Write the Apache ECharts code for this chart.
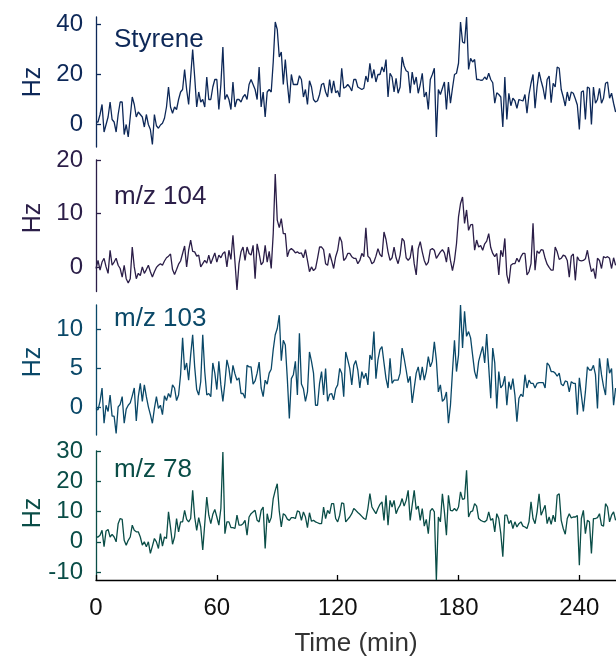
<!DOCTYPE html>
<html>
<head>
<meta charset="utf-8">
<script src="https://cdn.jsdelivr.net/npm/echarts@6/dist/echarts.min.js"></script>
<style>
html,body{margin:0;padding:0;background:#fff;}
#chart{width:616px;height:662px;}
</style>
</head>
<body>
<div id="chart"></div>
<script>
// Time axis ticks (min)
const xTicks = [0, 60, 120, 180, 240];
// Panel names
const panelNames = ['Styrene', 'm/z 104', 'm/z 103', 'm/z 78'];
// y tick labels per panel
const yTicks1 = [0, 20, 40];
const yTicks2 = [0, 10, 20];
const yTicks3 = [0, 5, 10];
const yTicks4 = [-10, 0, 10, 20, 30];

// Hz values, one per minute from 0 to 258 min
const styrene = [
 1, 1, 4, 8, -3, 0, 3, 9, 2, 1,
 -3, 4, 9, 9, -4, 0, -5, 3, 11, 8,
 3, 5, 4, 3, -1, 4, 0, -2, -8, 4,
 -0.5, -1.5, -0.2, 0.5, 2.5, 7, 15, 7, 4.5, 7,
 6, 10, 13, 14, 22, 14, 8, 19, 30, 19,
 7, 13, 9, 10, 7, 19, 10, 10, 15, 18,
 18, 6, 16, 31, 10, 12, 10, 6, 17, 7,
 10, 10, 9, 11, 12, 10, 16, 18, 16, 14,
 10, 23, 7, 13, 3, 13, 14, 13, 25, 41,
 38, 27, 29, 16, 26, 16.5, 8.5, 20, 16, 16,
 16, 19.5, 18, 11, 14, 8, 17.5, 15, 10, 9,
 9.5, 12, 16, 16.5, 13, 11, 18, 12.5, 17.5, 12.7,
 13.5, 11, 22.5, 14.5, 15, 16, 15, 13.4, 18, 18,
 15, 14.5, 14, 14.5, 19.4, 17, 24.5, 18.5, 22, 17,
 20, 20, 23, 21, 26, 11, 20.5, 19, 13, 18.5,
 12.5, 15, 27, 23.4, 21.5, 21, 12.5, 21, 16, 19,
 12.5, 16, 20.5, 11, 13, 6, 18, 20, 22.5, -5,
 14, 12, 14.5, 17, 6, 17, 8.5, 14.5, 20, 20.5,
 24.5, 41, 33, 32.5, 43, 22, 26.5, 25, 26, 18,
 18, 17.7, 17.8, 19, 18, 20.5, 18, 16.7, 8.5, 12.7,
 12, 11, -1, 19, 2, 12.5, 7.5, 10.5, 9.5, 6.5,
 10, 9.7, 9.4, 12, 4.5, 12, 16.5, 20, 6.5, 15,
 21, 17.5, 14.5, 10, 18, 19.4, 8.7, 16.5, 15, 23,
 22.5, 14, 11, 7.4, 13, 9.5, 13, 12.5, 10.3, 7.8,
 -2, 13, 13.5, 2, 15, 14.5, 0, 15, 8.5, 10,
 14.5, 8.5, 10.5, 16.5, 17, 10.5, 12.5, 8.5, 5
];
const mz104 = [
 -0.2, 1.3, -0.5, 1.0, 1.7, 0.1, -1.1, 3.2, 0.4, 1.0,
 1.7, 0.4, -0.2, -1.8, 0.4, -2.1, -2.9, -2.1, 3.8, 0.1,
 -2.1, -1.1, -1.5, 0.1, -1.1, -0.4, 0.4, -0.8, -1.8, -0.8,
 0, 0.4, 0.7, 0.4, 1.2, 1.8, 2.1, 2.5, -0.4, -1.3,
 -0.4, 0.6, 1.2, 2.6, 4.0, 0.1, 3.2, 5.1, 3.0, 2.9,
 2.1, 2.3, 0.1, 0.7, 1.3, 0.8, 2.3, 0.7, 1.7, 2.7,
 1.0, 2.3, 1.8, 2.6, 2.9, 0.1, 3.2, 1.5, 6.0, 1.0,
 -4.2, 0.7, 2.9, 3.8, 1.3, 3.8, 2.6, 2.3, 4.1, -2.1,
 4.4, 2.6, 0.5, 1.0, 4.1, 1.0, 3.0, -0.2, 6.3, 17.4,
 8.8, 7.4, 9.1, 6.3, 6.3, 2.0, 3.2, 3.5, 3.2, 2.7,
 2.9, 2.6, 2.7, 1.8, 3.3, 1.3, -0.8, 0.1, -0.6, -0.2,
 1.7, 3.8, 3.8, 3.3, 0.7, 0.4, 2.6, 1.3, -0.2, 2.0,
 3.2, 5.7, 4.8, 1.3, 1.7, 2.6, 2.6, 2.0, 1.7, 1.7,
 0.7, 1.3, 2.6, 2.0, 7.4, 2.1, 1.7, 0.7, 1.0, 2.1,
 3.5, 2.4, 2.0, 6.6, 5.2, 2.9, 1.3, 1.8, 3.8, 1.8,
 0.7, 2.3, 5.4, 4.9, 1.8, 1.3, 1.8, 4.1, 0.7, -1.4,
 3.5, 4.8, 2.9, 1.3, 0.4, 1.0, 3.3, 3.5, 3.2, 1.7,
 2.3, 2.9, 3.3, 2.7, 1.0, 3.8, 1.3, -0.6, 1.3, 4.4,
 9.4, 11.9, 13.1, 8.2, 10.7, 6.9, 7.9, 8.0, 3.2, 5.1,
 3.8, 4.1, 3.2, 4.4, 4.9, 6.3, 3.7, 2.6, 2.0, 2.6,
 -1.4, 3.2, 2.0, 5.4, -1.4, -3.0, 0.4, 0.7, 0.7, 1.7,
 1.0, 2.0, 2.6, 2.6, -1.4, -0.8, 0.7, 8.2, -0.5, 3.1,
 2.6, 3.3, 3.2, 1.7, 0.6, 0, -0.5, -0.5, 3.8, 2.9,
 1.5, 1.7, 2.3, 2.1, 1.3, -1.8, 2.1, 2.5, -2.4, 2.0,
 1.3, 1.2, 1.3, 1.6, 3.2, 1.0, -0.8, -0.2, -2.1, 1.7,
 1.3, -0.2, 2.0, 1.8, 2.0, 1.7, -0.2, 1.8, 0.4
];
const mz103 = [
 -0.1, -0.3, 0.8, 2.5, -2.0, 0.3, -0.5, 1.6, -1.1, -1.1,
 -3.3, 0.1, 0.4, 1.4, -2.0, -0.2, 0.3, 0.6, 1.5, 2.5,
 -1.7, 1.4, 3.1, 0.8, 2.9, 1.4, 0.1, -0.9, -2.0, -0.1,
 1.4, -0.1, 0.3, -0.9, 1.5, 0.9, 1.8, 1.3, 2.9, 2.5,
 0.9, 1.6, 4.2, 8.9, 4.8, 5.7, 3.5, 6.7, 9.3, 5.2,
 2.3, 1.6, 3.3, 9.3, 4.6, 1.6, 1.8, 1.4, 5.7, 4.4,
 2.3, 5.9, 2.9, 0.8, 3.1, 6.1, 5.0, 3.1, 5.4, 4.3,
 3.5, 3.8, 1.8, 1.8, 1.2, 5.4, 5.2, 5.2, 3.0, 3.4,
 4.4, 5.8, 2.5, 1.4, 3.5, 3.0, 4.4, 4.9, 7.4, 9.3,
 10.1, 11.8, 6.0, 8.6, 8.0, 3.7, -1.4, 3.7, 4.2, 5.9,
 1.6, 9.5, 3.0, 2.4, 0.8, 2.0, 7.1, 5.9, 4.4, 0.3,
 0.3, 3.1, 4.6, 1.6, 5.0, 0.8, 1.7, 1.8, 1.0, 2.4,
 2.9, 5.0, 4.4, 1.4, 7.1, 6.1, 5.0, 2.9, 5.4, 6.0,
 4.8, 2.5, 4.6, 3.7, 4.4, 2.9, 6.7, 6.1, 9.7, 3.7,
 6.1, 7.4, 7.8, 5.7, 3.7, 2.5, 6.3, 3.1, 3.5, 3.5,
 3.5, 4.4, 7.6, 6.3, 4.8, 3.2, 4.0, 0.6, 2.5, 4.4,
 5.2, 3.5, 5.2, 3.5, 4.6, 6.5, 5.2, 5.9, 8.4, 6.1,
 2.0, 2.9, 0.8, 1.1, 2.0, -2.0, 0.3, 4.6, 8.6, 4.6,
 6.7, 13.1, 7.6, 12.3, 9.1, 9.7, 8.9, 6.7, 4.6, 3.7,
 5.9, 6.9, 7.8, 5.7, 9.4, 5.2, 1.2, 7.6, 5.7, -0.1,
 4.6, 2.5, 2.9, 4.0, 0.3, 3.3, 2.3, 3.7, 1.6, -1.8,
 1.2, 1.7, 1.4, 4.2, 2.5, 3.5, 3.1, 3.1, 2.5, 3.1,
 3.2, 3.2, 3.2, 2.5, 5.7, 5.4, 4.6, 4.6, 4.4, 4.0,
 4.4, 3.0, 2.8, 3.4, 3.3, 2.0, 3.3, 3.1, 3.1, -0.9,
 3.8, 1.6, -0.5, 2.0, 5.2, 4.8, 4.8, 5.4, 4.2, -0.1,
 6.3, 4.2, 2.7, 1.6, 6.3, 4.4, 5.0, 0.3, 2.5
];
const mz78 = [
 1.6, 1.6, 2.2, 3.8, -1.6, 3.6, 4.1, 1.6, 2.5, 1.6,
 0, 6.0, 7.7, 7.4, 0.5, -1.1, 0.5, 1.6, 5.5, 3.8,
 3.3, 3.3, 1.6, -1.1, 0, -1.6, 0, -3.8, -1.4, 1.1,
 0, -2.2, 2.7, -1.4, 1.6, 1.1, 9.9, 4.7, -0.8, 1.6,
 7.7, 3.3, 6.6, 6.6, 10.4, 7.4, 6.6, 7.7, 17.0, 8.2,
 3.8, 8.0, 4.9, -2.7, 6.0, 14.8, 8.8, 6.0, 9.1, 10.7,
 8.2, 5.5, 11.0, 29.7, 2.7, 6.6, 6.6, 4.7, 4.7, 4.4,
 8.8, 5.5, 5.5, 6.0, 7.1, 2.2, 8.2, 9.3, 9.9, 10.4,
 7.1, 6.6, 10.4, 11.5, -2.2, 9.3, 6.3, 8.0, 14.3, 17.0,
 19.2, 10.2, 4.9, 9.3, 8.8, 7.5, 7.1, 8.0, 8.0, 7.7,
 10.2, 9.9, 7.1, 9.9, 8.2, 4.7, 9.6, 6.8, 7.1, 6.6,
 6.3, 6.0, 6.0, 11.5, 7.7, 10.4, 9.3, 12.6, 12.6, 7.7,
 6.6, 8.8, 12.9, 12.6, 6.6, 7.4, 8.2, 9.3, 11.0, 10.4,
 9.7, 9.1, 8.4, 7.7, 7.4, 11.0, 15.9, 11.5, 10.4, 9.3,
 11.0, 12.4, 13.2, 7.1, 15.4, 5.5, 13.7, 11.5, 13.7, 9.3,
 11.0, 12.1, 14.3, 11.8, 13.7, 17.0, 7.1, 12.1, 17.0, 10.7,
 11.8, 7.1, 11.0, 5.2, 7.4, 2.7, 10.2, 11.0, 9.9, -12.6,
 8.2, 6.6, 15.9, 9.9, 2.2, 15.4, 10.4, 10.2, 11.0, 10.2,
 11.5, 16.5, 14.0, 14.3, 23.6, 8.2, 9.9, 10.2, 12.6, 11.8,
 7.7, 7.1, 6.8, 6.6, 7.1, 9.9, 7.1, 7.7, 3.3, 9.3,
 7.7, 2.7, -4.9, 8.8, 8.8, 6.0, 7.1, 4.4, 6.6, 4.9,
 6.0, 6.6, 5.2, 4.9, 4.4, 6.6, 13.2, 7.7, 6.0, 9.9,
 15.9, 8.8, 10.4, 12.1, 6.0, 8.2, 5.8, 8.8, 6.6, 15.4,
 15.9, 7.1, 4.4, 2.5, 7.7, 9.3, 7.9, 8.2, 8.2, 8.7,
 -7.7, 7.7, 10.4, 2.7, 7.1, 6.6, -3.8, 7.7, 7.7, 8.0,
 9.3, 5.5, 5.2, 12.6, 11.5, 6.6, 8.8, 9.9, 7.1
];

const seriesValues = [styrene, mz104, mz103, mz78];
const yTickSets = [yTicks1, yTicks2, yTicks3, yTicks4];
const colors = ['#0d2858', '#2b1e48', '#0a4868', '#0a4d47'];
const yRanges = [[-9, 43], [-4.5, 20], [-3.5, 13.1], [-12.6, 30]];
const grids = [
  {left: 96, width: 520, top: 17, height: 130},
  {left: 96, width: 520, top: 160, height: 131.6},
  {left: 96, width: 520, top: 305, height: 130},
  {left: 96, width: 520, top: 451, height: 129}
];
const labelY = [40, 197, 318.5, 470];
const hzY = [82, 218, 362, 513];
const FONT = 'Liberation Sans';

const chart = echarts.init(document.getElementById('chart'), null, {renderer: 'canvas'});

const option = {
  animation: false,
  backgroundColor: '#ffffff',
  grid: grids,
  xAxis: grids.map((g, i) => ({
    type: 'value', gridIndex: i, min: 0, max: 258.2,
    show: i === 3,
    axisLine: {show: true, onZero: false, lineStyle: {color: '#000', width: 1.3}},
    axisTick: {show: true, inside: true, length: 5, customValues: xTicks, lineStyle: {color: '#000', width: 1.3}},
    axisLabel: {show: true, customValues: xTicks, margin: 16, fontSize: 24, color: '#111', fontFamily: FONT},
    splitLine: {show: false},
    name: i === 3 ? 'Time (min)' : '',
    nameLocation: 'middle', nameGap: 51,
    nameTextStyle: {fontSize: 26, color: '#333', fontFamily: FONT}
  })),
  yAxis: grids.map((g, i) => ({
    type: 'value', gridIndex: i, min: yRanges[i][0], max: yRanges[i][1],
    axisLine: {show: true, onZero: false, lineStyle: {color: colors[i], width: 1.3}},
    axisTick: {show: true, inside: true, length: 5, customValues: yTickSets[i], lineStyle: {color: colors[i], width: 1.3}},
    axisLabel: {show: true, customValues: yTickSets[i], margin: 13, fontSize: 24, color: colors[i], fontFamily: FONT},
    splitLine: {show: false}
  })),
  series: seriesValues.map((vals, i) => ({
    type: 'line', xAxisIndex: i, yAxisIndex: i,
    data: vals.map((v, j) => [j, v]),
    showSymbol: false, symbol: 'none', clip: false,
    lineStyle: {color: colors[i], width: 1.3},
    emphasis: {disabled: true}
  })),
  graphic: [
    ...panelNames.map((name, i) => ({
      type: 'text', x: 114, y: labelY[i],
      style: {text: name, font: '26px "' + FONT + '"', fill: colors[i], align: 'left', verticalAlign: 'middle'}
    })),
    ...hzY.map((y, i) => ({
      type: 'text', x: 33, y: y, rotation: Math.PI / 2,
      style: {text: 'Hz', font: '25px "' + FONT + '"', fill: colors[i], align: 'center', verticalAlign: 'middle'}
    }))
  ]
};
chart.setOption(option);
</script>
</body>
</html>
